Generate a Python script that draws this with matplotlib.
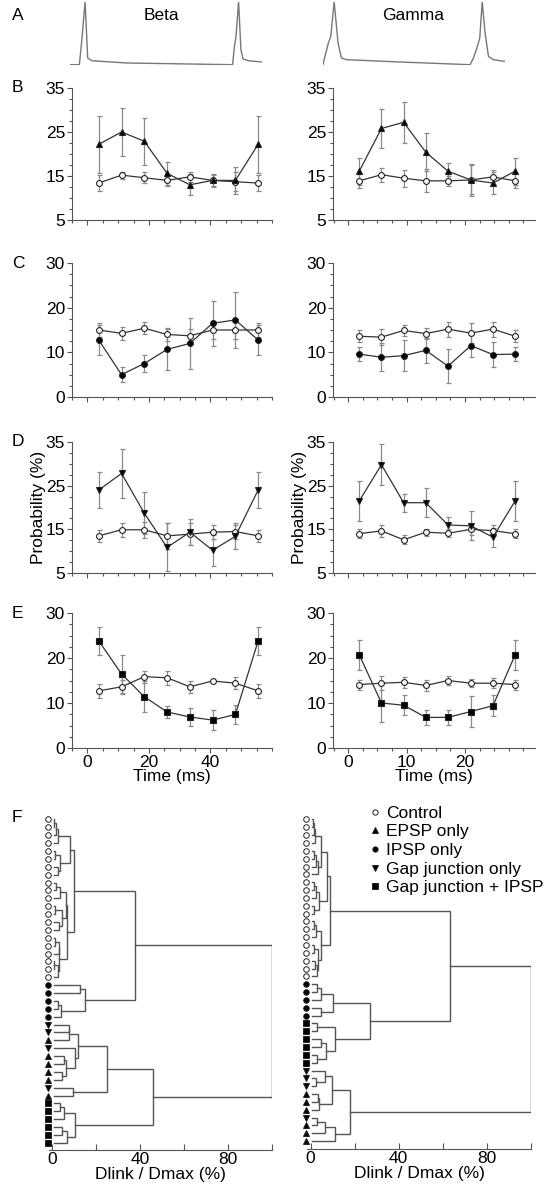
import matplotlib
matplotlib.use('Agg')
import matplotlib.pyplot as plt
from matplotlib.ticker import FixedLocator, MultipleLocator
from matplotlib.lines import Line2D

plt.rcParams['font.family'] = ['Liberation Sans', 'DejaVu Sans']
plt.rcParams['font.size'] = 12.5

# ---- panel A: example membrane potential traces (ms, mV) ----
beta_trace_t = [-5.8, -2.2, -1.3, 0.0, 1.0, 2.6, 16.0, 56.7, 57.4, 58.0, 59.0, 59.9, 60.7, 62.8, 68.0]
beta_trace_v = [-70, -70, -33, 30, -59.4, -63.7, -67.3, -70, -41, -25.3, 30, -46.3, -61, -63.7, -65.7]
gamma_trace_t = [-2.3, -1.9, -1.2, -0.7, 0.0, 0.8, 1.5, 2.6, 13.5, 28.0, 28.7, 29.4, 30.0, 30.5, 31.1, 31.8, 32.8, 35.2]
gamma_trace_v = [-70, -56.9, -35.7, -25.3, 30, -35.7, -59.4, -62.1, -65.7, -70, -59.4, -43.6, -27.8, 30, -19.9, -56.9, -62.1, -64.8]

# ---- panels B-E: spike probability per phase bin (%) ----
beta_t = [3.7, 11.1, 18.5, 25.9, 33.3, 40.7, 48.1, 55.5]
gamma_t = [1.9, 5.7, 9.5, 13.3, 17.1, 21.0, 24.8, 28.6]

beta_epsp = [22.2, 25.0, 22.9, 15.6, 13.0, 14.0, 14.0, 22.2]
beta_epsp_err = [6.5, 5.4, 5.3, 2.6, 2.4, 1.5, 3.0, 6.5]
beta_epsp_ctrl = [13.4, 15.2, 14.6, 14.0, 14.8, 14.0, 13.7, 13.4]
beta_epsp_ctrl_err = [1.9, 0.8, 1.3, 1.2, 1.2, 1.3, 2.2, 1.9]
gamma_epsp = [16.1, 25.8, 27.2, 20.4, 16.1, 14.1, 13.4, 16.1]
gamma_epsp_err = [3.1, 4.5, 4.6, 4.3, 1.8, 3.6, 2.4, 3.1]
gamma_epsp_ctrl = [13.9, 15.3, 14.5, 13.9, 13.9, 14.1, 14.8, 13.9]
gamma_epsp_ctrl_err = [1.7, 1.6, 1.9, 2.6, 1.2, 3.3, 1.6, 1.7]

beta_ipsp = [12.75, 5.0, 7.5, 10.65, 12.0, 16.5, 17.25, 12.75]
beta_ipsp_err = [3.3, 1.7, 2.0, 4.6, 5.7, 5.0, 6.3, 3.3]
beta_ipsp_ctrl = [15.0, 14.25, 15.4, 14.0, 13.7, 15.0, 15.0, 15.0]
beta_ipsp_ctrl_err = [1.5, 1.5, 1.3, 1.5, 1.5, 2.0, 2.0, 1.5]
gamma_ipsp = [9.6, 8.9, 9.25, 10.45, 6.9, 11.5, 9.5, 9.6]
gamma_ipsp_err = [1.6, 3.1, 3.4, 2.8, 3.8, 2.5, 2.8, 1.6]
gamma_ipsp_ctrl = [13.6, 13.4, 14.9, 14.2, 15.2, 14.3, 15.2, 13.6]
gamma_ipsp_ctrl_err = [1.3, 1.8, 1.3, 1.3, 1.7, 2.2, 1.7, 1.3]

beta_gap = [24.0, 27.8, 18.7, 10.85, 14.35, 10.2, 13.4, 24.0]
beta_gap_err = [4.2, 5.7, 4.8, 5.5, 3.0, 3.5, 3.0, 4.2]
beta_gap_ctrl = [13.5, 14.9, 14.9, 13.5, 13.9, 14.35, 14.5, 13.5]
beta_gap_ctrl_err = [1.3, 1.6, 1.8, 3.0, 2.5, 1.6, 1.6, 1.3]
gamma_gap = [21.5, 29.8, 21.1, 21.1, 16.0, 15.8, 13.2, 21.5]
gamma_gap_err = [4.5, 4.7, 2.1, 3.3, 1.8, 3.3, 2.2, 4.5]
gamma_gap_ctrl = [14.0, 14.65, 12.6, 14.35, 14.1, 15.0, 14.7, 14.0]
gamma_gap_ctrl_err = [1.0, 1.3, 1.0, 0.8, 0.9, 1.3, 1.3, 1.0]

beta_gi = [23.8, 16.45, 11.4, 8.0, 6.9, 6.2, 7.45, 23.8]
beta_gi_err = [3.2, 4.2, 3.4, 1.3, 2.0, 2.3, 2.2, 3.2]
beta_gi_ctrl = [12.7, 13.6, 15.85, 15.6, 13.6, 14.9, 14.4, 12.7]
beta_gi_ctrl_err = [1.5, 1.5, 1.3, 1.5, 1.4, 0.3, 1.3, 1.5]
gamma_gi = [20.7, 10.0, 9.5, 6.8, 6.8, 8.1, 9.4, 20.7]
gamma_gi_err = [3.4, 4.2, 2.2, 1.6, 1.6, 3.4, 2.3, 3.4]
gamma_gi_ctrl = [14.1, 14.4, 14.6, 13.9, 15.0, 14.4, 14.4, 14.1]
gamma_gi_ctrl_err = [1.1, 1.5, 1.2, 1.2, 1.0, 0.9, 1.1, 1.1]

# ---- panel F: dendrograms, nodes are (Dlink/Dmax %, child, child), leaves are ints ----
beta_leaves = ['c'] * 21 + ['i'] * 5 + ['g', 'g', 'e', 'g', 'e', 'e', 'e', 'e', 'g', 'e'] + ['s'] * 6
gamma_leaves = ['c'] * 21 + ['i'] * 5 + ['s'] * 6 + ['g', 'g', 'g', 'e', 'e', 'e', 'g', 'e', 'e', 'e']

beta_tree = (100,
    (37.7,
        (10.1,
            (8.3, (2.5, (1.8, (1.0, 0, 1), 2), 3), (3.5, (1.5, 4, 5), (2.6, 6, 7))),
            (6.8,
                (6.2, (3.5, (2.0, 8, 9), 10), (4.5, (1.5, 11, 12), (3.0, 13, 14))),
                (3.3, (3.0, (1.5, 15, 16), 17), (2.5, (1.0, 18, 19), 20)))),
        (15.1, (12.8, 21, 22), (4.0, (2.5, 23, 24), 25))),
    (45.7,
        (24.9,
            (11.6, (7.8, (7.5, 26, 27), 28), (10.6, 29, (6.5, (5.3, 30, 31), (4.5, 32, 33)))),
            (9.4, 34, 35)),
        (10.6, (5.3, (3.5, 36, 37), 38), (6.8, (4.5, 39, 40), 41))))

gamma_tree = (100,
    (63.4,
        (8.8,
            (7.5,
                (4.8, (2.0, (1.5, (1.0, 0, 1), 2), 3), (3.2, (2.5, (1.5, 4, 5), 6), 7)),
                (4.0, (2.5, (1.5, 8, 9), 10), (1.5, 11, 12))),
            (4.5, (2.5, (1.5, 13, 14), 15), (3.3, (1.5, 16, 17), (2.8, (2.0, 18, 19), 20)))),
        (27.2,
            (10.3, (4.5, (2.7, 21, 22), 23), (4.8, 24, 25)),
            (10.9, (2.7, 26, 27), (6.8, (4.5, 28, 29), (3.0, 30, 31))))),
    (17.8,
        (9.8, (6.5, 32, (2.3, 33, 34)), (4.0, (3.5, 35, 36), 37)),
        (11.3, (6.5, (2.7, 38, 39), 40), 41)))

legend_keys = ['c', 'e', 'i', 'g', 's']
legend_labels = ['Control', 'EPSP only', 'IPSP only', 'Gap junction only', 'Gap junction + IPSP']
marker_of = {'c': 'o', 'e': '^', 'i': 'o', 'g': 'v', 's': 's'}
face_of = {'c': 'white', 'e': 'black', 'i': 'black', 'g': 'black', 's': 'black'}

W, H = 546, 1199
SPINE = '#555555'


def box(x0, y0, x1, y1):
    return [x0 / W, 1 - y1 / H, (x1 - x0) / W, (y1 - y0) / H]


fig = plt.figure(figsize=(W / 100, H / 100), dpi=100)

# panel A
axa1 = fig.add_axes(box(70, 1.7, 262, 65))
axa1.plot(beta_trace_t, beta_trace_v, color='#777777', lw=1)
axa1.set_xlim(-5.8, 68.0)
axa2 = fig.add_axes(box(323, 1.7, 505, 65))
axa2.plot(gamma_trace_t, gamma_trace_v, color='#777777', lw=1)
axa2.set_xlim(-2.3, 35.2)
for a in (axa1, axa2):
    a.set_ylim(-70.5, 30)
    a.axis('off')
fig.text(161 / W, 1 - 15 / H, 'Beta', ha='center', va='center')
fig.text(413 / W, 1 - 15 / H, 'Gamma', ha='center', va='center')

rows = [
    ('B', 88, 220, (5, 35), 'EPSP', '^',
     (beta_epsp, beta_epsp_err, beta_epsp_ctrl, beta_epsp_ctrl_err),
     (gamma_epsp, gamma_epsp_err, gamma_epsp_ctrl, gamma_epsp_ctrl_err)),
    ('C', 263, 397, (0, 30), 'IPSP', 'o',
     (beta_ipsp, beta_ipsp_err, beta_ipsp_ctrl, beta_ipsp_ctrl_err),
     (gamma_ipsp, gamma_ipsp_err, gamma_ipsp_ctrl, gamma_ipsp_ctrl_err)),
    ('D', 442, 573, (5, 35), 'Gap', 'v',
     (beta_gap, beta_gap_err, beta_gap_ctrl, beta_gap_ctrl_err),
     (gamma_gap, gamma_gap_err, gamma_gap_ctrl, gamma_gap_ctrl_err)),
    ('E', 613, 748, (0, 30), 'Gap+IPSP', 's',
     (beta_gi, beta_gi_err, beta_gi_ctrl, beta_gi_ctrl_err),
     (gamma_gi, gamma_gi_err, gamma_gi_ctrl, gamma_gi_ctrl_err)),
]


def style_axis(ax):
    for s in ('top', 'right'):
        ax.spines[s].set_visible(False)
    for s in ('left', 'bottom'):
        ax.spines[s].set_color(SPINE)
        ax.spines[s].set_linewidth(0.8)
    ax.tick_params(which='both', colors=SPINE, labelcolor='black', width=0.8, labelsize=12.5, pad=1.5)
    ax.tick_params(which='major', length=3.5)
    ax.tick_params(which='minor', length=2.5)


def draw_series(ax, t, y, err, marker, face):
    ax.errorbar(t, y, yerr=err, fmt='none', ecolor='#8a8a8a', elinewidth=0.9, capsize=1.8, capthick=0.9, zorder=1)
    ax.plot(t, y, color='#333333', lw=0.9, marker=marker, ms=4.2, mfc=face, mec='#222222', mew=0.8, zorder=3)


for label, top, bottom, ylim, name, mk, bdat, gdat in rows:
    fig.text(12 / W, 1 - top / H, label, ha='left', va='center')
    for col, (x0, x1, t, dat) in enumerate([(72, 272, beta_t, bdat), (333, 535, gamma_t, gdat)]):
        ax = fig.add_axes(box(x0, top, x1, bottom))
        val, err, cval, cerr = dat
        draw_series(ax, t, cval, cerr, 'o', 'white')
        draw_series(ax, t, val, err, mk, 'black')
        ax.set_ylim(*ylim)
        ax.yaxis.set_major_locator(FixedLocator(list(range(ylim[0], ylim[1] + 1, 10))))
        ax.yaxis.set_minor_locator(MultipleLocator(2.5))
        if col == 0:
            ax.set_xlim(-5, 60)
            ax.xaxis.set_major_locator(FixedLocator([0, 20, 40]))
            ax.xaxis.set_minor_locator(MultipleLocator(5))
        else:
            ax.set_xlim(-2.6, 32)
            ax.xaxis.set_major_locator(FixedLocator([0, 10, 20]))
            ax.xaxis.set_minor_locator(MultipleLocator(2.5))
        style_axis(ax)
        if label == 'E':
            ax.set_xlabel('Time (ms)', labelpad=-1)
        else:
            ax.tick_params(axis='x', labelbottom=False)
        if label == 'D':
            ax.set_ylabel('Probability (%)', labelpad=0)

# panel F
fig.text(12 / W, 1 - 817 / H, 'F', ha='left', va='center')


def draw_tree(ax, node):
    if isinstance(node, int):
        return node, 0.8
    h, a, b = node
    ya, ha = draw_tree(ax, a)
    yb, hb = draw_tree(ax, b)
    ax.plot([ha, h, h, hb], [ya, ya, yb, yb], color='#555555', lw=1.0, solid_joinstyle='miter')
    return (ya + yb) / 2, h


for x0, x1, y0, y1, tree, leaves, ymax in [(48.7, 272, 810, 1150, beta_tree, beta_leaves, 41.9),
                                           (307.3, 530.7, 810, 1149, gamma_tree, gamma_leaves, 42.0)]:
    ax = fig.add_axes(box(x0, y0, x1, y1))
    draw_tree(ax, tree)
    for i, k in enumerate(leaves):
        ax.plot(-1.9, i, marker=marker_of[k], ms=4.0, mfc=face_of[k], mec='#222222', mew=0.7,
                ls='none', clip_on=False)
    ax.set_xlim(-1.5, 100)
    ax.set_ylim(ymax, -1.2)
    ax.set_yticks([])
    ax.spines['left'].set_visible(False)
    ax.xaxis.set_major_locator(FixedLocator([0, 20, 40, 60, 80, 100]))
    ax.set_xticklabels(['0', '', '40', '', '80', ''])
    style_axis(ax)
    ax.tick_params(axis='x', direction='in', length=4)
    ax.set_xlabel('Dlink / Dmax (%)', labelpad=0)

handles = [Line2D([], [], ls='none', marker=marker_of[k], ms=3.8, mfc=face_of[k], mec='#222222', mew=0.7)
           for k in legend_keys]
fig.legend(handles, legend_labels, loc='upper left', bbox_to_anchor=(361 / W, 1 - 797 / H),
           frameon=False, handlelength=0.6, handletextpad=0.35, labelspacing=0.2, borderpad=0,
           fontsize=12.5)

fig.text(12 / W, 1 - 15 / H, 'A', ha='left', va='center')

fig.savefig('out.png', dpi=100)
